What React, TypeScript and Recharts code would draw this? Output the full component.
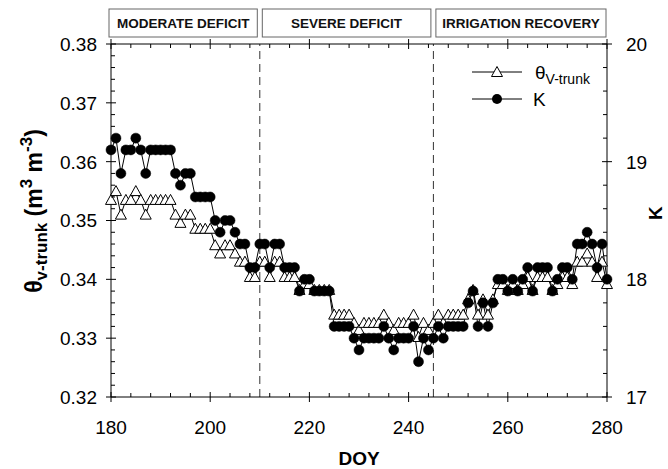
import React from 'react';
import { LineChart, Line, XAxis, YAxis, ReferenceLine } from 'recharts';

// daily readings, DOY 180..280
const doy = Array.from({ length: 101 }, (_, i) => 180 + i);

const kValues = [
  19.1, 19.2, 18.9, 19.1, 19.1, 19.2, 19.1, 18.9, 19.1, 19.1,
  19.1, 19.1, 19.1, 18.9, 18.8, 18.9, 18.9, 18.7, 18.7, 18.7,
  18.7, 18.5, 18.4, 18.5, 18.5, 18.4, 18.3, 18.3, 18.1, 18.1,
  18.3, 18.3, 18.1, 18.3, 18.3, 18.1, 18.1, 18.1, 17.9, 18.0,
  18.0, 17.9, 17.9, 17.9, 17.9, 17.6, 17.6, 17.6, 17.6, 17.5,
  17.4, 17.5, 17.5, 17.5, 17.5, 17.6, 17.5, 17.4, 17.5, 17.5,
  17.5, 17.6, 17.3, 17.5, 17.4, 17.5, 17.6, 17.5, 17.6, 17.6,
  17.6, 17.6, 17.8, 17.9, 17.6, 17.8, 17.6, 17.8, 18.0, 18.0,
  17.9, 18.0, 17.9, 18.0, 18.1, 17.9, 18.1, 18.1, 18.1, 17.9,
  18.0, 18.1, 18.1, 18.0, 18.3, 18.3, 18.4, 18.3, 18.1, 18.3,
  18.0,
];

const thetaValues = [
  0.3535, 0.3550, 0.3510, 0.3535, 0.3535, 0.3550, 0.3535, 0.3510, 0.3535, 0.3535,
  0.3535, 0.3535, 0.3535, 0.3510, 0.3496, 0.3510, 0.3510, 0.3486, 0.3486, 0.3486,
  0.3486, 0.3458, 0.3444, 0.3458, 0.3458, 0.3444, 0.3430, 0.3430, 0.3404, 0.3404,
  0.3430, 0.3430, 0.3404, 0.3430, 0.3430, 0.3404, 0.3404, 0.3404, 0.3382, 0.3392,
  0.3392, 0.3382, 0.3382, 0.3382, 0.3382, 0.3340, 0.3340, 0.3340, 0.3340, 0.3326,
  0.3314, 0.3326, 0.3326, 0.3326, 0.3326, 0.3340, 0.3326, 0.3314, 0.3326, 0.3326,
  0.3326, 0.3340, 0.3302, 0.3326, 0.3314, 0.3326, 0.3340, 0.3326, 0.3340, 0.3340,
  0.3340, 0.3340, 0.3366, 0.3382, 0.3340, 0.3366, 0.3340, 0.3366, 0.3392, 0.3392,
  0.3382, 0.3392, 0.3382, 0.3392, 0.3404, 0.3382, 0.3404, 0.3404, 0.3404, 0.3382,
  0.3392, 0.3404, 0.3404, 0.3392, 0.3430, 0.3430, 0.3444, 0.3430, 0.3404, 0.3430,
  0.3392,
];

const xMajor = [180, 200, 220, 240, 260, 280];
const xTicks = Array.from({ length: 26 }, (_, i) => 180 + i * 4);
const thetaMajor = [0.32, 0.33, 0.34, 0.35, 0.36, 0.37, 0.38];
const thetaTicks = Array.from({ length: 31 }, (_, i) => +(0.32 + i * 0.002).toFixed(3));
const kMajor = [17, 18, 19, 20];
const kTicks = Array.from({ length: 16 }, (_, i) => +(17 + i * 0.2).toFixed(1));

const phaseLabels = ['MODERATE DEFICIT', 'SEVERE DEFICIT', 'IRRIGATION RECOVERY'];
const phaseBounds = [180, 210, 245, 280];

const data = doy.map((d, i) => ({ doy: d, theta: thetaValues[i], k: kValues[i] }));

const W = 668;
const H = 469;
const PL = 111;
const PR = 607;
const PT = 44;
const PB = 397;
const FONT = '"Liberation Sans", Arial, sans-serif';
const px = (d: number) => PL + ((d - 180) / 100) * (PR - PL);

const isMajor = (v: number, list: number[]) => list.some((m) => Math.abs(m - v) < 1e-6);

const BottomTick = (props: any) => {
  const { x, y, payload } = props;
  const major = isMajor(payload.value, xMajor);
  return (
    <g>
      <line x1={x} x2={x} y1={major ? y - 5 : y - 4} y2={major ? y + 5 : y} stroke="#000" />
      {major && (
        <text x={x} y={y + 37} textAnchor="middle" fontSize={19} fontFamily={FONT} fill="#000">
          {payload.value}
        </text>
      )}
    </g>
  );
};

const TopTick = (props: any) => {
  const { x, y, payload } = props;
  const major = isMajor(payload.value, xMajor);
  return <line x1={x} x2={x} y1={major ? y - 5 : y} y2={major ? y + 5 : y + 4} stroke="#000" />;
};

const LeftTick = (props: any) => {
  const { x, y, payload } = props;
  const major = isMajor(payload.value, thetaMajor);
  return (
    <g>
      <line x1={major ? x - 5 : x} x2={major ? x + 5 : x + 4} y1={y} y2={y} stroke="#000" />
      {major && (
        <text x={x - 14} y={y} dy="0.36em" textAnchor="end" fontSize={19} fontFamily={FONT} fill="#000">
          {payload.value.toFixed(2)}
        </text>
      )}
    </g>
  );
};

const RightTick = (props: any) => {
  const { x, y, payload } = props;
  const major = isMajor(payload.value, kMajor);
  return (
    <g>
      <line x1={major ? x - 5 : x - 4} x2={major ? x + 5 : x} y1={y} y2={y} stroke="#000" />
      {major && (
        <text x={x + 19} y={y} dy="0.36em" textAnchor="start" fontSize={19} fontFamily={FONT} fill="#000">
          {payload.value}
        </text>
      )}
    </g>
  );
};

const TriangleDot = (props: any) => {
  const { cx, cy, index } = props;
  if (cx == null || cy == null) return <g key={index} />;
  return (
    <polygon
      key={index}
      points={`${cx},${cy - 5.5} ${cx - 5.5},${cy + 4.5} ${cx + 5.5},${cy + 4.5}`}
      fill="#fff"
      stroke="#000"
      strokeWidth={1}
    />
  );
};

const Overlay = () => (
  <svg width={W} height={H} style={{ position: 'absolute', left: 0, top: 0, pointerEvents: 'none' }}>
    {phaseLabels.map((label, i) => {
      const x1 = i === 0 ? px(phaseBounds[0]) - 2 : px(phaseBounds[i]) + 2.5;
      const x2 = i === phaseLabels.length - 1 ? px(phaseBounds[i + 1]) - 1 : px(phaseBounds[i + 1]) - 2.5;
      return (
        <g key={label}>
          <rect x={x1} y={9} width={x2 - x1} height={28} fill="#fff" stroke="#666" strokeWidth={1} />
          <text x={(x1 + x2) / 2} y={28} textAnchor="middle" fontSize={13.5} fontWeight="bold" fontFamily={FONT} fill="#111">
            {label}
          </text>
        </g>
      );
    })}

    <text
      x={42}
      y={211}
      transform="rotate(-90 42 211)"
      textAnchor="middle"
      fontSize={23}
      fontWeight="bold"
      fontFamily={FONT}
      fill="#000"
    >
      <tspan>θ</tspan>
      <tspan fontSize={17} dy={5}>v-trunk</tspan>
      <tspan dy={-5}> (m</tspan>
      <tspan fontSize={17} dy={-10}>3</tspan>
      <tspan dy={10}> m</tspan>
      <tspan fontSize={17} dy={-10}>-3</tspan>
      <tspan dy={10}>)</tspan>
    </text>

    <text
      x={662}
      y={213}
      transform="rotate(-90 662 213)"
      textAnchor="middle"
      fontSize={19}
      fontWeight="bold"
      fontFamily={FONT}
      fill="#000"
    >
      K
    </text>

    <text x={(PL + PR) / 2} y={465} textAnchor="middle" fontSize={19} fontWeight="bold" fontFamily={FONT} fill="#000">
      DOY
    </text>

    {/* legend */}
    <line x1={472} x2={522} y1={72} y2={72} stroke="#000" />
    <polygon points="497,66.5 491.5,76.5 502.5,76.5" fill="#fff" stroke="#000" />
    <text x={535} y={79} fontSize={19} fontFamily={FONT} fill="#000">
      <tspan>θ</tspan>
      <tspan fontSize={14} dy={5}>V-trunk</tspan>
    </text>
    <line x1={472} x2={522} y1={99} y2={99} stroke="#000" />
    <circle cx={497} cy={99} r={5} fill="#000" />
    <text x={533} y={106} fontSize={19} fontFamily={FONT} fill="#000">
      K
    </text>
  </svg>
);

export default function App() {
  return (
    <div style={{ position: 'absolute', left: 0, top: 0, width: W, height: H, background: '#fff' }}>
      <LineChart width={W} height={H} data={data} margin={{ top: PT - 20, right: 0, bottom: 0, left: 0 }}>
        <XAxis
          xAxisId="bottom"
          dataKey="doy"
          type="number"
          domain={[180, 280]}
          ticks={xTicks}
          interval={0}
          height={H - PB}
          tickSize={0}
          tickMargin={0}
          tickLine={false}
          tick={<BottomTick />}
          axisLine={{ stroke: '#000' }}
        />
        <XAxis
          xAxisId="top"
          orientation="top"
          dataKey="doy"
          type="number"
          domain={[180, 280]}
          ticks={xTicks}
          interval={0}
          height={20}
          tickSize={0}
          tickMargin={0}
          tickLine={false}
          tick={<TopTick />}
          axisLine={{ stroke: '#000' }}
        />
        <YAxis
          yAxisId="theta"
          domain={[0.32, 0.38]}
          ticks={thetaTicks}
          interval={0}
          width={PL}
          tickSize={0}
          tickMargin={0}
          tickLine={false}
          tick={<LeftTick />}
          axisLine={{ stroke: '#000' }}
          allowDataOverflow
        />
        <YAxis
          yAxisId="k"
          orientation="right"
          domain={[17, 20]}
          ticks={kTicks}
          interval={0}
          width={W - PR}
          tickSize={0}
          tickMargin={0}
          tickLine={false}
          tick={<RightTick />}
          axisLine={{ stroke: '#000' }}
          allowDataOverflow
        />
        <ReferenceLine xAxisId="bottom" yAxisId="theta" x={210} stroke="#333" strokeDasharray="8 5" />
        <ReferenceLine xAxisId="bottom" yAxisId="theta" x={245} stroke="#333" strokeDasharray="8 5" />
        <Line
          xAxisId="bottom"
          yAxisId="theta"
          dataKey="theta"
          type="linear"
          stroke="#000"
          strokeWidth={1}
          dot={(p: any) => <TriangleDot key={p.index} {...p} />}
          activeDot={false}
          isAnimationActive={false}
        />
        <Line
          xAxisId="bottom"
          yAxisId="k"
          dataKey="k"
          type="linear"
          stroke="#000"
          strokeWidth={1}
          dot={{ r: 5, fill: '#000', stroke: '#000', strokeWidth: 0.5 }}
          activeDot={false}
          isAnimationActive={false}
        />
      </LineChart>
      <Overlay />
    </div>
  );
}
